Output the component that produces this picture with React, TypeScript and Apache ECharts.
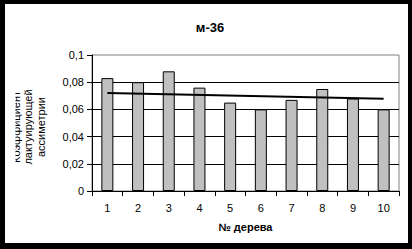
import React, { useEffect, useRef } from "react";
import * as echarts from "echarts";

const titleText = "м-36";
const categories = ["1", "2", "3", "4", "5", "6", "7", "8", "9", "10"];
const barValues = [0.083, 0.08, 0.088, 0.076, 0.065, 0.06, 0.067, 0.075, 0.068, 0.06];
// trend line: start at tree 1, end at tree 10
const trendValues = [0.0721, null, null, null, null, null, null, null, null, 0.0679];
const yTickLabels = ["0", "0,02", "0,04", "0,06", "0,08", "0,1"];
const xAxisName = "№ дерева";
const yAxisNameLines = ["Коэффициент", "лактуирующей", "ассиметрии"];

const FONT = "'Liberation Sans', Arial, sans-serif";

export default function App() {
  const ref = useRef<HTMLDivElement>(null);
  useEffect(() => {
    if (!ref.current) return;
    const chart = echarts.init(ref.current, undefined, { renderer: "svg" });
    chart.setOption({
      animation: false,
      backgroundColor: "transparent",
      title: {
        text: titleText,
        left: 205,
        top: 16,
        textAlign: "center",
        textStyle: { fontFamily: FONT, fontSize: 13, fontWeight: "bold", color: "#000" },
      },
      grid: {
        left: 92,
        top: 55,
        width: 307,
        height: 136,
        show: true,
        borderColor: "#808080",
        borderWidth: 1,
        backgroundColor: "transparent",
      },
      xAxis: {
        type: "category",
        data: categories,
        boundaryGap: true,
        name: xAxisName,
        nameLocation: "middle",
        nameGap: 30,
        nameTextStyle: { fontFamily: FONT, fontSize: 11, fontWeight: "bold", color: "#000" },
        axisLine: { show: true, lineStyle: { color: "#000", width: 1 } },
        axisTick: { show: true, length: 5, lineStyle: { color: "#000" } },
        axisLabel: { fontFamily: FONT, fontSize: 11, color: "#000", margin: 11 },
        splitLine: { show: false },
      },
      yAxis: {
        type: "value",
        min: 0,
        max: 0.1,
        interval: 0.02,
        axisLine: { show: true, lineStyle: { color: "#000", width: 1 } },
        axisTick: { show: true, length: 5, lineStyle: { color: "#000" } },
        axisLabel: {
          fontFamily: FONT,
          fontSize: 11,
          color: "#000",
          margin: 8,
          formatter: (_v: number, i: number) => yTickLabels[i],
        },
        splitLine: {
          show: true,
          showMinLine: false,
          showMaxLine: false,
          lineStyle: { color: "#000", width: 1 },
        },
      },
      graphic: [
        {
          type: "text",
          x: 28,
          y: 127,
          rotation: Math.PI / 2,
          z: 50,
          style: {
            text: yAxisNameLines.join("\n"),
            fontFamily: FONT,
            fontSize: 11,
            lineHeight: 12.5,
            fill: "#000",
            textAlign: "center",
            textVerticalAlign: "middle",
          },
        },
        {
          type: "rect",
          z: 100,
          shape: { x: 5, y: 4, width: 10.5, height: 239 },
          style: { fill: "#fff" },
        },
      ],
      series: [
        {
          type: "bar",
          data: barValues,
          barWidth: 12,
          itemStyle: { color: "#C0C0C0", borderColor: "#000", borderWidth: 1 },
          z: 2,
        },
        {
          type: "line",
          data: trendValues,
          connectNulls: true,
          showSymbol: false,
          symbol: "none",
          lineStyle: { color: "#000", width: 2 },
          z: 3,
        },
      ],
    });
    return () => chart.dispose();
  }, []);
  return (
    <div style={{ position: "absolute", left: 0, top: 0, width: 412, height: 249, background: "#000" }}>
      <div style={{ position: "absolute", left: 5, top: 4, width: 403, height: 239, background: "#fff" }} />
      <div ref={ref} style={{ position: "absolute", left: 0, top: 0, width: 412, height: 249 }} />
    </div>
  );
}
